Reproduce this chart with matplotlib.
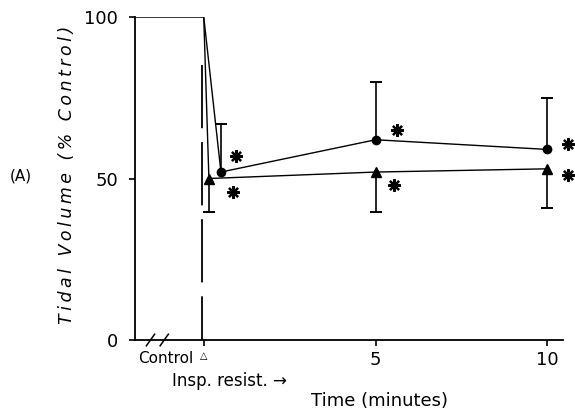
import matplotlib.pyplot as plt
from matplotlib.transforms import offset_copy

# data
control_value = 100
circle_t = [0, 0.5, 5, 10]
circle_v = [100, 52, 62, 59]
circle_err_up = [0, 15, 18, 16]

tri_t = [0, 0.15, 5, 10]
tri_v = [100, 50, 52, 53]
tri_err_down = [0, 10.5, 12.5, 12]

x_ticks = [0, 5, 10]
x_tick_labels = ['\u25b3', '5', '10']
y_ticks = [0, 50, 100]

plt.rcParams['font.family'] = ['DejaVu Sans']

fig = plt.figure(figsize=(5.75, 4.15), dpi=100)
ax = fig.add_axes([0.2348, 0.1807, 0.7442, 0.7783])
ax.set_xlim(-2.0, 10.45)
ax.set_ylim(0, 100)

# control segment before resistance
ax.hlines(control_value, -2.0, 0, color='black', lw=1.1)

# dashed line at onset of inspiratory resistance (drawn top-down)
ax.plot([-0.05, -0.05], [85, 0], color='black', lw=1.3,
        linestyle=(0, (35, 7.7)))

# circle series (upper error bars only)
top = [v + e for v, e in zip(circle_v, circle_err_up)]
ax.vlines(circle_t[1:], circle_v[1:], top[1:], color='black', lw=1.2)
ax.plot(circle_t[1:], top[1:], '_', color='black', ms=8, mew=1.4)
ax.plot(circle_t, circle_v, color='black', lw=1.0)
ax.plot(circle_t[1:], circle_v[1:], 'o', color='black', ms=6)

# triangle series (lower error bars only)
bottom = [v - e for v, e in zip(tri_v, tri_err_down)]
ax.vlines(tri_t[1:], bottom[1:], tri_v[1:], color='black', lw=1.2)
ax.plot(tri_t[1:], bottom[1:], '_', color='black', ms=8, mew=1.4)
ax.plot(tri_t, tri_v, color='black', lw=1.0)
ax.plot(tri_t[1:], tri_v[1:], '^', color='black', ms=6.5)

# significance stars, offset from each point (pixels)
circle_offsets = [(15, 16), (21, 10), (21, 5)]
tri_offsets = [(24, -13), (18, -13), (21, -6)]
for pts, offs in [(list(zip(circle_t[1:], circle_v[1:])), circle_offsets),
                  (list(zip(tri_t[1:], tri_v[1:])), tri_offsets)]:
    for (t, v), (dx, dy) in zip(pts, offs):
        tr = offset_copy(ax.transData, fig=fig, x=dx, y=dy, units='dots')
        ax.plot([t], [v], marker=(8, 2, 0), ms=9, mew=1.6, color='black',
                transform=tr, clip_on=False)
        ax.plot([t], [v], marker='o', ms=3.5, color='black', transform=tr,
                clip_on=False)

# axes styling
for side in ['top', 'right']:
    ax.spines[side].set_visible(False)
for side in ['left', 'bottom']:
    ax.spines[side].set_linewidth(1.3)

ax.set_yticks(y_ticks)
ax.set_yticklabels([str(v) for v in y_ticks], fontsize=13)
ax.set_xticks(x_ticks)
ax.set_xticklabels(x_tick_labels, fontsize=13)
ax.get_xticklabels()[0].set_fontsize(7)
ax.tick_params(axis='y', direction='out', length=4, width=1.2, pad=8)
ax.tick_params(axis='x', direction='out', length=4, width=1.2, pad=4)

# axis break marks
for xb in [-1.55, -1.15]:
    ax.plot([xb - 0.12, xb + 0.12], [-1.8, 1.8], color='black', lw=1.1,
            clip_on=False)

ax.text(-0.3, -5.8, 'Control', fontsize=11, ha='right', va='center',
        clip_on=False)

ylab = '\u2009'.join('Tidal Volume (% Control)')
fig.text(0.037, 0.575, '(A)', fontsize=11, ha='center', va='center')
fig.text(0.117, 0.578, ylab, fontsize=12.5,
         style='italic', rotation=90, ha='center', va='center')
fig.text(0.299, 0.082, 'Insp. resist. \u2192', fontsize=12, ha='left',
         va='center')
fig.text(0.66, 0.034, 'Time (minutes)', fontsize=13, ha='center',
         va='center')

fig.savefig('out.png', dpi=100)
